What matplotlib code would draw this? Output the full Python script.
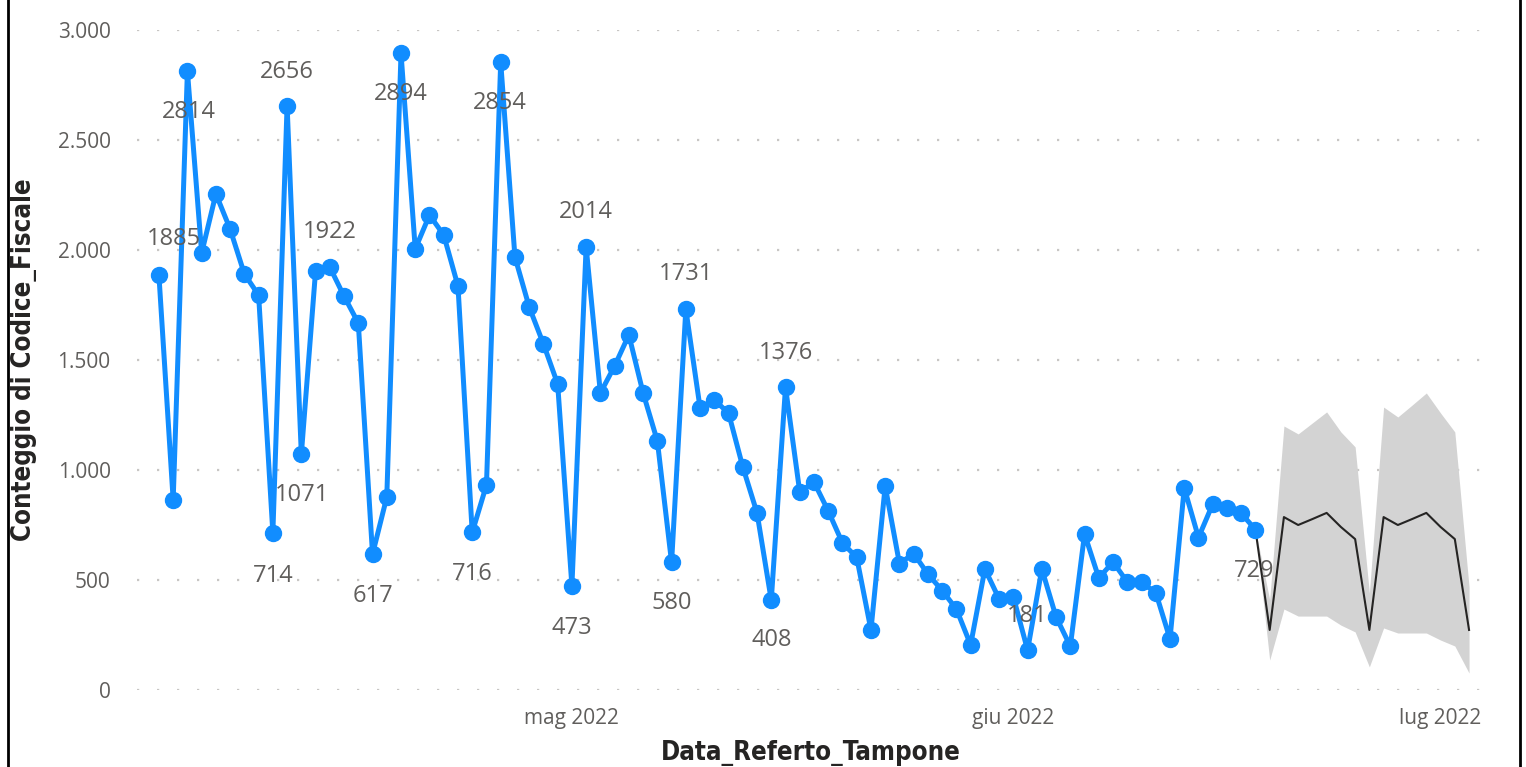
import pandas as pd
import matplotlib
matplotlib.use("Agg")
import matplotlib.pyplot as plt
import matplotlib.dates as mdates
from matplotlib.lines import Line2D

# daily counts, from 2 Apr 2022 to 18 Jun 2022
start_date = "2022-04-02"
counts = [1885, 864, 2814, 1986, 2255, 2095, 1891, 1795, 714, 2656,
          1071, 1905, 1922, 1790, 1668, 617, 877, 2894, 2005, 2159,
          2068, 1836, 716, 932, 2854, 1968, 1741, 1573, 1391, 473,
          2014, 1350, 1473, 1614, 1350, 1132, 580, 1731, 1282, 1318,
          1259, 1014, 805, 408, 1376, 900, 945, 814, 668, 603,
          273, 927, 575, 620, 527, 452, 368, 205, 550, 414,
          423, 181, 550, 332, 199, 709, 509, 582, 491, 489,
          443, 232, 918, 693, 845, 827, 803, 729]

# forecast, from 19 Jun 2022 to 3 Jul 2022
fc_start = "2022-06-19"
fc_values = [273, 786, 750, 777, 805, 741, 686, 273, 786, 750, 777, 805, 741, 686, 273]
fc_upper = [410, 1200, 1164, 1214, 1264, 1173, 1105, 441, 1286, 1241, 1295, 1350, 1259, 1173, 469]
fc_lower = [136, 368, 336, 336, 336, 295, 264, 105, 282, 259, 259, 259, 227, 200, 77]

# labelled points: value -> (dx, dy) offset in pixels
labels = {1885: (15, 36), 2814: (1, -41), 714: (0, -43), 2656: (0, 34),
          1071: (1, -41), 1922: (0, 35), 617: (0, -42), 2894: (0, -41),
          716: (0, -42), 2854: (-1, -41), 473: (0, -42), 2014: (0, 35),
          580: (0, -41), 1731: (0, 35), 408: (0, -40), 1376: (0, 34),
          181: (0, 34), 729: (-1, -41)}

months_it = ["gen", "feb", "mar", "apr", "mag", "giu", "lug", "ago", "set", "ott", "nov", "dic"]

dates = pd.date_range(start_date, periods=len(counts), freq="D")
fc_dates = pd.date_range(fc_start, periods=len(fc_values), freq="D")

W, H = 1526, 767
fig = plt.figure(figsize=(W / 100, H / 100), dpi=100)
ax = fig.add_axes([137 / W, 1 - 690 / H, (1485 - 137) / W, 660 / H])

tick_col = "#605E5C"
title_col = "#252423"

# forecast band and line (joined to the last real point)
band_x = [dates[-1]] + list(fc_dates)
ax.fill_between(band_x, [counts[-1]] + fc_lower, [counts[-1]] + fc_upper,
                color="#D3D3D3", linewidth=0, zorder=1)
ax.plot(band_x, [counts[-1]] + fc_values, color="#252423", linewidth=1.5, zorder=2)

ax.plot(dates, counts, color="#118DFF", linewidth=3.6, marker="o",
        markersize=11.5, zorder=3)

for d, v in zip(dates, counts):
    if v in labels:
        dx, dy = labels[v]
        ax.annotate(str(v), (d, v), xytext=(dx, dy), textcoords="offset pixels",
                    ha="center", va="center", fontsize=17, color=tick_col,
                    family="Open Sans", zorder=4)

ax.set_ylim(0, 3000)
x0 = mdates.date2num(dates[0])
x1 = mdates.date2num(fc_dates[-1])
ax.set_xlim(x0 - 1.54, x1 + 1.12)

ax.set_yticks(range(0, 3001, 500))
ax.set_yticklabels([f"{t:,}".replace(",", ".") for t in range(0, 3001, 500)])
xt = pd.to_datetime(["2022-05-01", "2022-06-01", "2022-07-01"])
ax.set_xticks(mdates.date2num(xt))
ax.set_xticklabels([f"{months_it[t.month - 1]} {t.year}" for t in xt])

ax.tick_params(axis="both", length=0, labelsize=15, labelcolor=tick_col)
ax.tick_params(axis="y", pad=19)
ax.tick_params(axis="x", pad=13)
for lab in ax.get_xticklabels() + ax.get_yticklabels():
    lab.set_family("Open Sans")

ax.grid(axis="y", color="#C8C6C4", linestyle=(0, (1, 8)), linewidth=1.6)
ax.set_axisbelow(True)
for s in ax.spines.values():
    s.set_visible(False)

ax.set_xlabel("Data_Referto_Tampone", fontsize=18.5, color=title_col,
              family="DejaVu Sans", fontstretch="condensed", weight="bold",
              labelpad=8)
ax.set_ylabel("Conteggio di Codice_Fiscale", fontsize=18.5, color=title_col,
              family="DejaVu Sans", fontstretch="condensed", weight="bold",
              labelpad=15)

# card border
fig.add_artist(Line2D([8 / W, 8 / W], [0, 1], color="black", linewidth=2))
fig.add_artist(Line2D([1520 / W, 1520 / W], [0, 1], color="black", linewidth=2))

fig.savefig("out.png", dpi=100)
